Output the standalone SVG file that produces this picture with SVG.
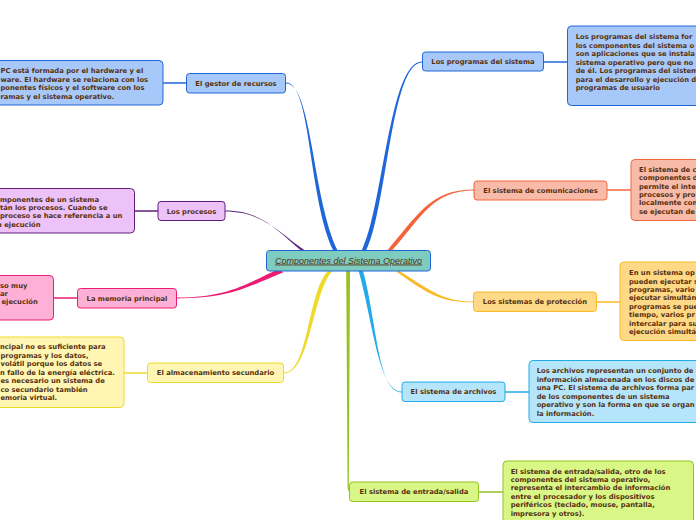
<svg xmlns="http://www.w3.org/2000/svg" width="696" height="520" viewBox="0 0 696 520">
<style>
text{font-family:"DejaVu Sans",Verdana,sans-serif;font-weight:bold;font-size:6.8px;fill:#57300f}
.c{text-anchor:middle}
.root{font-family:"Liberation Sans",Arial,sans-serif;font-weight:normal;font-style:italic;font-size:9px;text-decoration:underline;fill:#57300f}
rect{stroke-width:1}
.blue{fill:#a7c9f9;stroke:#1f66d8}
.purple{fill:#ecc2f8;stroke:#5e1f7c}
.pink{fill:#feb0d6;stroke:#ec1c73}
.yellow{fill:#fff6b4;stroke:#efda2a}
.salmon{fill:#f9bba9;stroke:#f3663a}
.orange{fill:#ffd985;stroke:#fab926}
.cyan{fill:#b4e5fa;stroke:#22aaea}
.green{fill:#d9f787;stroke:#94c21f}
.teal{fill:#7ecbc0;stroke:#1f66d8}
.ln{fill:none;stroke-width:1.5}
</style>
<rect width="696" height="520" fill="#ffffff"/>
<g id="connectors">
<path d="M286,82.6 C311.5,82.6 308,200 334,252 L338.5,252 C312,200 312.5,83.4 286,83.4 Z" fill="#1f66d8"/>
<path d="M361,252 C383,210 389,61.6 422,61.6 L422,62.4 C391,62.4 387,210 365.5,252 Z" fill="#1f66d8"/>
<path d="M386,252 C418,215 430,189.6 474,189.6 L474,190.4 C432,190.4 422,217 390.5,252 Z" fill="#f3663a"/>
<path d="M225,210.6 C262,210.6 276,230 303,252 L307,252 C278,232 263,211.4 225,211.4 Z" fill="#5e1f7c"/>
<path d="M176,297.6 C230,297.6 245,284 280,268.5 L283,272.5 C247,287 231,298.4 176,298.4 Z" fill="#ec1c73"/>
<path d="M284,372.6 C309,372.6 307,290 329.5,269 L334,269 C312,290 311,373.4 284,373.4 Z" fill="#efda2a"/>
<path d="M358,269 C373,320 378,391.6 402,391.6 L402,392.4 C377,392.4 377,320 362.5,269 Z" fill="#22aaea"/>
<path d="M395,268.5 C428,288 440,301.6 474,301.6 L474,302.4 C438,302.4 426,292 397.5,272.5 Z" fill="#fab926"/>
<path d="M346.2,269 L350,269 L348.8,488 Q349,491.6 352,491.6 L352,492.4 Q348.2,492.4 347.6,488 Z" fill="#94c21f"/>
<line class="ln" x1="163" y1="83" x2="186" y2="83" stroke="#1f66d8"/>
<line class="ln" x1="134" y1="211" x2="158" y2="211" stroke="#5e1f7c"/>
<line class="ln" x1="53" y1="298" x2="77" y2="298" stroke="#ec1c73"/>
<line class="ln" x1="124" y1="373" x2="147" y2="373" stroke="#efda2a"/>
<line class="ln" x1="543" y1="62" x2="567" y2="62" stroke="#1f66d8"/>
<line class="ln" x1="607" y1="190" x2="631" y2="190" stroke="#f3663a"/>
<line class="ln" x1="596" y1="302" x2="620" y2="302" stroke="#fab926"/>
<line class="ln" x1="505" y1="392" x2="529" y2="392" stroke="#22aaea"/>
<line class="ln" x1="478" y1="492" x2="503" y2="492" stroke="#94c21f"/>
</g>
<g id="root">
<rect class="teal" x="266.5" y="250.5" width="164" height="20.5" rx="3"/>
<text class="root c" x="348.5" y="263.5">Componentes del Sistema Operativo</text>
</g>
<g id="gestor">
<rect class="blue" x="186.5" y="73.5" width="99" height="19.5" rx="3"/>
<text class="c" x="236" y="85.8">El gestor de recursos</text>
</g>
<g id="gestor-detalle">
<rect class="blue" x="-10" y="60.5" width="173" height="44.5" rx="4"/>
<text x="0.5" y="73.3">PC está formada por el hardware y el<tspan x="0.5" dy="8.4">ware. El hardware se relaciona con los</tspan><tspan x="0.5" dy="8.4">ponentes físicos y el software con los</tspan><tspan x="0.5" dy="8.4">ramas y el sistema operativo.</tspan></text>
</g>
<g id="procesos">
<rect class="purple" x="158" y="201.5" width="67" height="19" rx="3"/>
<text class="c" x="191.5" y="213.5">Los procesos</text>
</g>
<g id="procesos-detalle">
<rect class="purple" x="-10" y="188.5" width="144.5" height="44.5" rx="4"/>
<text x="0" y="201.6">mponentes de un sistema<tspan x="0" dy="8.3">tán los procesos. Cuando se</tspan><tspan x="0" dy="8.3">proceso se hace referencia a un</tspan><tspan x="-3" dy="8.3">n ejecución</tspan></text>
</g>
<g id="memoria">
<rect class="pink" x="77.5" y="288.5" width="99" height="19.5" rx="3"/>
<text class="c" x="127" y="300.6">La memoria principal</text>
</g>
<g id="memoria-detalle">
<rect class="pink" x="-10" y="275.5" width="63.5" height="44.5" rx="4"/>
<text x="0" y="288.2">so muy<tspan x="0" dy="8">ar</tspan><tspan x="1.5" dy="8">ejecución</tspan></text>
</g>
<g id="almacenamiento">
<rect class="yellow" x="147.5" y="363" width="136" height="19.5" rx="3"/>
<text class="c" x="215.5" y="375.2">El almacenamiento secundario</text>
</g>
<g id="almacenamiento-detalle">
<rect class="yellow" x="-10" y="337" width="134" height="70.5" rx="4"/>
<text x="0" y="349.2">ncipal no es suficiente para<tspan x="0.5" dy="8.5">programas y los datos,</tspan><tspan x="0.5" dy="8.5">volátil porque los datos se</tspan><tspan x="0" dy="8.5">n fallo de la energía eléctrica.</tspan><tspan x="0.5" dy="8.5">es necesario un sistema de</tspan><tspan x="0.5" dy="8.5">co secundario también</tspan><tspan x="0.5" dy="8.5">emoria virtual.</tspan></text>
</g>
<g id="programas">
<rect class="blue" x="422.5" y="52" width="121" height="19" rx="3"/>
<text class="c" x="483" y="64">Los programas del sistema</text>
</g>
<g id="programas-detalle">
<rect class="blue" x="567.5" y="26" width="140" height="79.5" rx="4"/>
<text x="575.7" y="39.2">Los programas del sistema for<tspan x="575.7" dy="8.5">los componentes del sistema o</tspan><tspan x="575.7" dy="8.5">son aplicaciones que se instala</tspan><tspan x="575.7" dy="8.5">sistema operativo pero que no</tspan><tspan x="575.7" dy="8.5">de él. Los programas del sistem</tspan><tspan x="575.7" dy="8.5">para el desarrollo y ejecución d</tspan><tspan x="575.7" dy="8.5">programas de usuario</tspan></text>
</g>
<g id="comunicaciones">
<rect class="salmon" x="474" y="181" width="133" height="19" rx="3"/>
<text class="c" x="540.5" y="193">El sistema de comunicaciones</text>
</g>
<g id="comunicaciones-detalle">
<rect class="salmon" x="631" y="159.5" width="80" height="61" rx="4"/>
<text x="639" y="171.8">El sistema de c<tspan x="639" dy="8.4">componentes d</tspan><tspan x="639" dy="8.4">permite el inte</tspan><tspan x="639" dy="8.4">procesos y pro</tspan><tspan x="639" dy="8.4">localmente con</tspan><tspan x="639" dy="8.4">se ejecutan de</tspan></text>
</g>
<g id="proteccion">
<rect class="orange" x="473.5" y="292" width="123" height="19.5" rx="3"/>
<text class="c" x="535" y="304.2">Los sistemas de protección</text>
</g>
<g id="proteccion-detalle">
<rect class="orange" x="620" y="262" width="90" height="78.5" rx="4"/>
<text x="629" y="275.2">En un sistema op<tspan x="629" dy="8.4">pueden ejecutar s</tspan><tspan x="629" dy="8.4">programas, vario</tspan><tspan x="629" dy="8.4">ejecutar simultán</tspan><tspan x="629" dy="8.4">programas se pue</tspan><tspan x="629" dy="8.4">tiempo, varios pr</tspan><tspan x="629" dy="8.4">intercalar para su</tspan><tspan x="629" dy="8.4">ejecución simultá</tspan></text>
</g>
<g id="archivos">
<rect class="cyan" x="402" y="382" width="103" height="19.5" rx="3"/>
<text class="c" x="453.5" y="394.2">El sistema de archivos</text>
</g>
<g id="archivos-detalle">
<rect class="cyan" x="529" y="360.5" width="180" height="62" rx="4"/>
<text x="536.7" y="373.2">Los archivos representan un conjunto de<tspan x="536.7" dy="8.5">información almacenada en los discos de</tspan><tspan x="536.7" dy="8.5">una PC. El sistema de archivos forma par</tspan><tspan x="536.7" dy="8.5">de los componentes de un sistema</tspan><tspan x="536.7" dy="8.5">operativo y son la forma en que se organ</tspan><tspan x="536.7" dy="8.5">la información.</tspan></text>
</g>
<g id="entrada-salida">
<rect class="green" x="349.5" y="482" width="129" height="19.5" rx="3"/>
<text class="c" x="414" y="494.2">El sistema de entrada/salida</text>
</g>
<g id="entrada-salida-detalle">
<rect class="green" x="503" y="461" width="190.5" height="66" rx="4"/>
<text x="510.7" y="473.5">El sistema de entrada/salida, otro de los<tspan x="510.7" dy="8.4">componentes del sistema operativo,</tspan><tspan x="510.7" dy="8.4">representa el intercambio de información</tspan><tspan x="510.7" dy="8.4">entre el procesador y los dispositivos</tspan><tspan x="510.7" dy="8.4">periféricos (teclado, mouse, pantalla,</tspan><tspan x="510.7" dy="8.4">impresora y otros).</tspan></text>
</g>
</svg>
